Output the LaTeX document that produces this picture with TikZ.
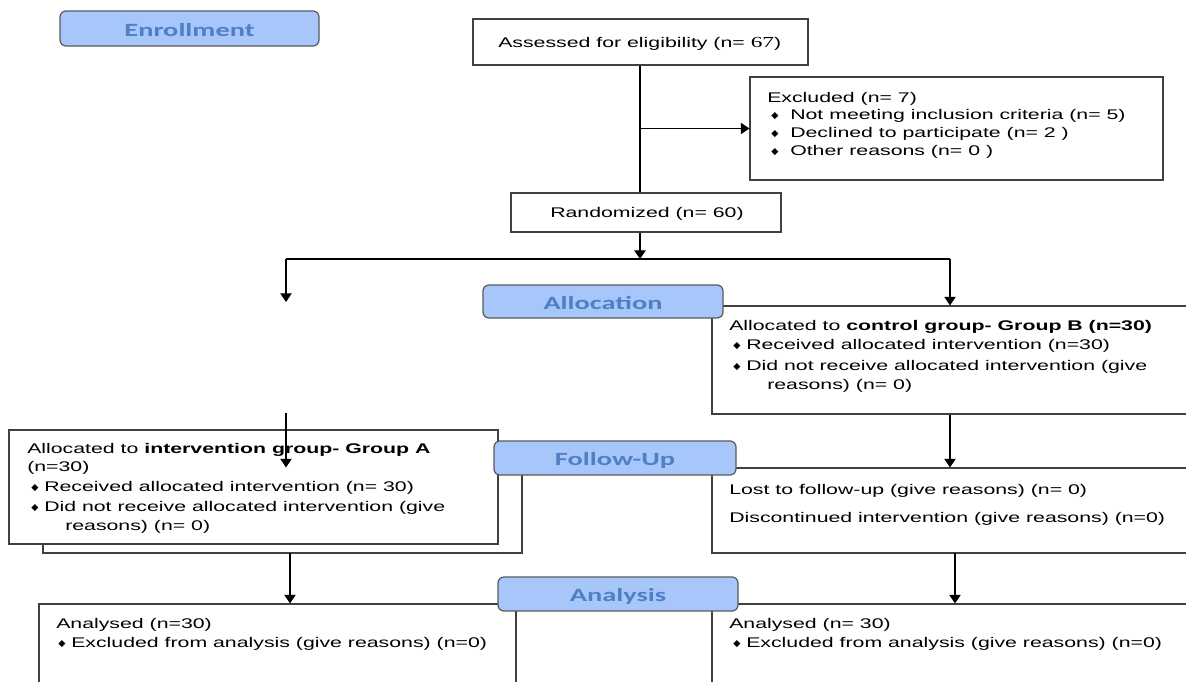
\documentclass[tikz,border=0pt]{standalone}
\usepackage{fontspec}
\setmainfont{Liberation Sans}[FakeStretch=1.52]
\newfontfamily\headfont{Carlito}[FakeStretch=1.52]
\newfontfamily\numfont{Liberation Serif}[FakeStretch=1.52]
\newfontfamily\symfont{DejaVu Sans}
\usepackage{xcolor}
\usetikzlibrary{arrows.meta,fit,calc,positioning}

\definecolor{headfill}{HTML}{A7C6F9}
\definecolor{headtext}{HTML}{4F7FC4}
\definecolor{headline}{HTML}{595959}
\definecolor{boxline}{HTML}{404040}

% small diamond bullet, #1 = gap up to the item text
\newcommand{\bul}[1][9.75pt]{\makebox[#1][l]{\raisebox{0.3pt}{\symfont\fontsize{7pt}{7pt}\selectfont ◆}}}

\tikzset{
  box/.style={draw=boxline, line width=0.8pt, fill=white, inner sep=0pt},
  phase/.style={draw=headline, line width=0.9pt, fill=headfill, rounded corners=4.5pt, inner sep=0pt},
  phasetxt/.style={text=headtext, inner sep=0pt, yshift=-1.5pt, font=\headfont\bfseries\fontsize{14pt}{16pt}\selectfont},
  txt/.style={anchor=base west, inner sep=0pt},
  arr/.style={-{Triangle[width=8.5pt,length=6.5pt]}, line width=0.9pt},
  conn/.style={line width=0.9pt},
}

\begin{document}
\begin{tikzpicture}[x=0.75pt,y=-0.75pt,
    every node/.style={font=\fontsize{10.5pt}{12pt}\selectfont}]
    \useasboundingbox (0,0) rectangle (1186,682);
    \clip (0,0) rectangle (1186,682);

    % boxes
    \node[box, fit={(473,19) (808,65)}] (assess) {};
    \node[box, fit={(750,77) (1163,180)}] (excl) {};
    \node[box, fit={(511,193) (781,232)}] (rand) {};
    \node[box, fit={(712,306) (1200,414)}] (grpB) {};
    \node[box, fit={(712,468) (1200,553)}] (fuR) {};
    \node[box, fit={(43,468) (522,553)}] (fuL) {};
    \node[box, fit={(9,430) (498,544)}] (grpA) {};
    \node[box, fit={(39,604) (516,700)}] (anL) {};
    \node[box, fit={(712,604) (1200,700)}] (anR) {};

    % phase labels
    \node[phase, fit={(60,11) (319,46)}] (enroll) {};
    \node[phase, fit={(483,285) (723,318)}] (alloc) {};
    \node[phase, fit={(494,441) (736,475)}] (follow) {};
    \node[phase, fit={(498,577) (738,611)}] (analysis) {};
    \node[phasetxt] (enrollT) at (enroll) {Enrollment};
    \node[phasetxt] (allocT) at (alloc) {Allocation};
    \node[phasetxt] (followT) at (follow) {Follow-Up};
    \node[phasetxt] (analysisT) at (analysis) {Analysis};

    % texts
    \node[txt] (as0) at (498,47) {Assessed for eligibility (n= {\numfont\fontsize{11.5pt}{12pt}\selectfont 67})};
    \node[txt] (rd0) at (550,217) {Randomized (n= 60)};

    \node[txt] (ex0) at (767,102) {Excluded (n= 7)};
    \node[txt] (ex1) at (771,119) {\bul[14.25pt]Not meeting inclusion criteria (n= 5)};
    \node[txt] (ex2) at (771,137) {\bul[14.25pt]Declined to participate (n= 2 )};
    \node[txt] (ex3) at (771,155) {\bul[14.25pt]Other reasons (n= 0 )};

    \node[txt] (b0) at (729,330) {Allocated to \textbf{control group- Group B (n=30)}};
    \node[txt] (b1) at (733,349) {\bul Received allocated intervention (n=30)};
    \node[txt] (b2) at (733,370) {\bul Did not receive allocated intervention (give};
    \node[txt] (b3) at (767,389) {reasons) (n= 0)};

    \node[txt] (a0) at (27,453) {Allocated to \textbf{intervention group- Group A}};
    \node[txt] (a1) at (27,471) {(n=30)};
    \node[txt] (a2) at (31,491) {\bul[9.75pt]Received allocated intervention (n= 30)};
    \node[txt] (a3) at (31,511) {\bul[9.75pt]Did not receive allocated intervention (give};
    \node[txt] (a4) at (65,530) {reasons) (n= 0)};

    \node[txt] (f0) at (729,494) {Lost to follow-up (give reasons) (n= 0)};
    \node[txt] (f1) at (729,522) {Discontinued intervention (give reasons) (n=0)};

    \node[txt] (l0) at (56,628) {Analysed (n=30)};
    \node[txt] (l1) at (58,647) {\bul Excluded from analysis (give reasons) (n=0)};
    \node[txt] (r0) at (729,628) {Analysed (n= 30)};
    \node[txt] (r1) at (733,647) {\bul Excluded from analysis (give reasons) (n=0)};

    % connectors
    \coordinate (split) at (640,259);
    \coordinate (splitL) at (286,259);
    \coordinate (splitR) at (950,259);
    \coordinate (armA) at (286,302);
    \coordinate (armA2) at (286,413);
    \coordinate (colL) at (290,553);
    \coordinate (colR) at (955,553);

    \draw[conn] (assess.south -| split) -- (rand.north -| split);
    \draw[arr] (excl.west -| split) -- (excl.west);
    \draw[arr] (rand.south -| split) -- (split);
    \draw[conn] (splitL) -- (splitR);
    \draw[arr] (splitL) -- (armA);
    \draw[arr] (splitR) -- (splitR |- grpB.north);
    \draw[arr] (armA2) -- (armA2 |- fuR.north);
    \draw[arr] (grpB.south -| splitR) -- (fuR.north -| splitR);
    \draw[arr] (colL) -- (colL |- anL.north);
    \draw[arr] (colR) -- (colR |- anR.north);
\end{tikzpicture}
\end{document}
